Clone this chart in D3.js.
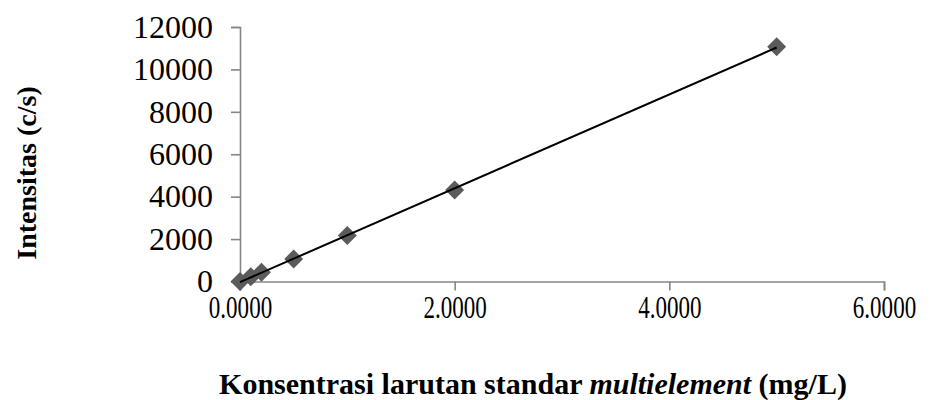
<!DOCTYPE html>
<html>
<head>
<meta charset="utf-8">
<script src="https://cdn.jsdelivr.net/npm/d3@7"></script>
<style>
  body { margin: 0; background: #fff; }
  svg { display: block; font-family: "Liberation Serif", "Times New Roman", serif; }
</style>
</head>
<body>
<svg id="chart" width="932" height="400"></svg>
<script>
const concentrations = [0, 0.1, 0.2, 0.5, 1, 2, 5];
const intensities = [0, 220, 440, 1060, 2170, 4310, 11070];
const xTicks = [0, 2, 4, 6];
const yTicks = [0, 2000, 4000, 6000, 8000, 10000, 12000];

const svg = d3.select("#chart");
const x = d3.scaleLinear().domain([0, 6]).range([240, 884]);
const y = d3.scaleLinear().domain([0, 12000]).range([281.5, 27]);
const axisColor = "#868686";

// y axis
const yAxis = svg.append("g")
    .attr("transform", "translate(240,0)")
    .call(d3.axisLeft(y).tickValues(yTicks).tickSize(9).tickPadding(18).tickFormat(d3.format("d")));
yAxis.select(".domain").attr("stroke", axisColor).attr("stroke-width", 1.6);
yAxis.selectAll(".tick line").attr("stroke", axisColor).attr("stroke-width", 1.6);
yAxis.selectAll("text").attr("font-size", "32px").attr("fill", "#000")
    .attr("font-family", "Liberation Serif");

// x axis
const xAxis = svg.append("g")
    .attr("transform", `translate(0,${y(0)})`)
    .call(d3.axisBottom(x).tickValues(xTicks).tickSize(9).tickSizeOuter(9).tickPadding(5).tickFormat(d3.format(".4f")));
xAxis.select(".domain").attr("stroke", axisColor).attr("stroke-width", 1.6);
xAxis.selectAll(".tick line").attr("stroke", axisColor).attr("stroke-width", 1.6);
xAxis.selectAll("text").attr("font-size", "32px").attr("fill", "#000")
    .attr("font-family", "Liberation Serif")
    .attr("dy", "0.71em")
    .attr("transform", "scale(0.72,1)")
    .attr("x", 0);

// trendline (least squares on the data)
const mx = d3.mean(concentrations), my = d3.mean(intensities);
const slope = d3.sum(concentrations, (c, i) => (c - mx) * (intensities[i] - my)) /
              d3.sum(concentrations, c => (c - mx) * (c - mx));
const intercept = my - slope * mx;
const xmin = d3.min(concentrations), xmax = d3.max(concentrations);

// markers
const pts = concentrations.map((c, i) => ({ c, v: intensities[i] }));
svg.selectAll("path.pt")
    .data(pts)
    .join("path")
    .attr("class", "pt")
    .attr("d", d3.symbol(d3.symbolSquare, 180))
    .attr("transform", d => `translate(${x(d.c)},${y(d.v)}) rotate(45)`)
    .attr("fill", "#5b5b5b");

// trendline drawn over the markers
svg.append("line")
    .attr("x1", x(xmin)).attr("y1", y(intercept + slope * xmin))
    .attr("x2", x(xmax)).attr("y2", y(intercept + slope * xmax))
    .attr("stroke", "#000").attr("stroke-width", 2);

// axis titles
svg.append("text")
    .attr("transform", "translate(36,173) rotate(-90)")
    .attr("text-anchor", "middle")
    .attr("font-size", "28px")
    .attr("font-weight", "bold")
    .text("Intensitas (c/s)");

const title = svg.append("text")
    .attr("x", 533)
    .attr("y", 394)
    .attr("text-anchor", "middle")
    .attr("font-size", "30px")
    .attr("font-weight", "bold");
title.append("tspan").text("Konsentrasi larutan standar ");
title.append("tspan").attr("font-style", "italic").text("multielement");
title.append("tspan").text(" (mg/L)");
</script>
</body>
</html>
